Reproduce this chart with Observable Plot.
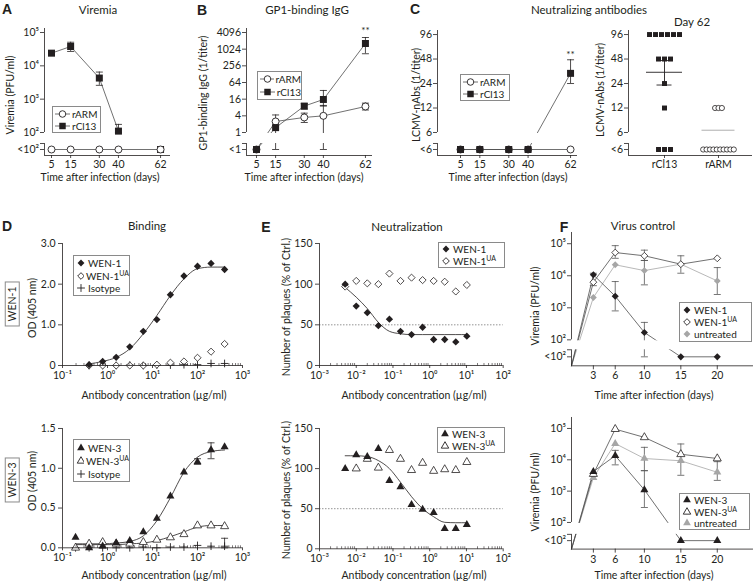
<!DOCTYPE html>
<html><head><meta charset="utf-8">
<script src="https://cdn.jsdelivr.net/npm/d3@7"></script>
<script src="https://cdn.jsdelivr.net/npm/@observablehq/plot@0.6"></script>
<style>
html,body{margin:0;padding:0;background:#fff;}
#fig{position:relative;width:754px;height:581px;overflow:hidden;background:#fff;font-family:Lato,"Open Sans",sans-serif;color:#231f20;}
.t{position:absolute;white-space:nowrap;transform:translate(-50%,-50%);line-height:1;}
.r{transform:translate(-50%,-50%) rotate(-90deg);}
.L{font-family:"Liberation Sans",Arial,sans-serif;font-weight:bold;font-size:14px;}
.ti{font-size:11.5px;}
.ax{font-size:10.5px;}
.boxlab{border:1px solid #8a8a8a;padding:1px 4px;font-size:10.5px;}
.box{position:absolute;box-sizing:border-box;border:1px solid #8a8a8a;background:#fff;font-size:10px;display:flex;flex-direction:column;justify-content:space-evenly;padding-left:2px;}
.row{display:flex;align-items:center;height:11px;white-space:nowrap;}
.row svg{margin-right:2px;}
sup{font-size:7px;line-height:0;vertical-align:4px;}
</style></head><body><div id="fig"></div>
<script>
// ================= DATA =================
// A–C: days after infection
const daysABC = [5, 15, 30, 40, 62];
// A: viremia (PFU/ml); 0 = below detection (<10^2)
const viremiaRARM = [0, 0, 0, 0, 0];
const viremiaRCl13 = [24000, 38000, 4300, 110, 0];
const viremiaRCl13Lo = [null, 27000, 2600, 100, null];
const viremiaRCl13Hi = [null, 51000, 6500, 175, null];
// B: GP1-binding IgG (1/titer); 0 = <1
const igRARM = [0, 2.5, 3.5, 4, 8.7];
const igRARMLo = [null, 1.8, 2.3, 0, 6.5];
const igRARMHi = [null, 4.3, 5, 9.5, 11.5];
const igRCl13 = [0, 1.5, 9, 15.6, 1640];
const igRCl13Lo = [null, 0, 7, 9, 700];
const igRCl13Hi = [null, 2.3, 11, 33, 2700];
// C: LCMV-nAbs (1/titer); 0 = <6
const nabRARM = [0, 0, 0, 0, 0];
const nabRCl13 = [0, 0, 0, 0, 32];
const nabRCl13Lo = [null, null, null, null, 24];
const nabRCl13Hi = [null, null, null, null, 47];
// C, day 62 individual mice
const day62Groups = ["rCl13", "rARM"];
const day62RCl13 = [96, 96, 96, 96, 96, 96, 48, 48, 48, 24, 12, 0, 0, 0];
const day62RARM = [12, 12, 12, 0, 0, 0, 0, 0, 0, 0, 0, 0, 0];
const day62Mean = [33, 6.4];
const day62SemLo = [23, 0];
const day62SemHi = [46, null];
// D: binding ELISA
const concD1 = [0.39, 0.78, 1.56, 3.125, 6.25, 12.5, 25, 50, 100, 200, 400];
const odWEN1 = [0.02, 0.10, 0.20, 0.46, 0.84, 1.13, 1.74, 2.20, 2.44, 2.51, 2.36];
const odWEN1UA = [0, 0, 0, 0, 0, 0.02, 0.07, 0.10, 0.19, 0.34, 0.53];
const odIso1 = [0, 0, 0, 0.01, 0, 0.01, 0.01, 0.02, 0.02, 0.05, 0.05];
const fitWEN1 = [0.04, 0.10, 0.20, 0.41, 0.78, 1.23, 1.72, 2.13, 2.38, 2.42, 2.42];
const concD3 = [0.195, 0.39, 0.78, 1.56, 3.125, 6.25, 12.5, 25, 50, 100, 200, 400];
const odWEN3 = [0.13, 0.0, 0.02, 0.06, 0.09, 0.20, 0.37, 0.65, 0.95, 1.08, 1.23, 1.27];
const odWEN3Lo = [null, null, null, null, null, null, null, null, null, 1.05, 1.12, null];
const odWEN3Hi = [null, null, null, null, null, null, null, null, null, 1.12, 1.32, null];
const odWEN3UA = [0.0, 0.05, 0.07, 0.05, 0.05, 0.07, 0.10, 0.13, 0.17, 0.28, 0.28, 0.27];
const odIso3 = [0, 0, 0, 0, 0, 0.01, 0, 0.01, 0.01, 0.03, 0.02, 0.02];
const odIso3Lo = [null, null, null, null, null, null, null, null, null, null, null, 0.0];
const odIso3Hi = [null, null, null, null, null, null, null, null, null, null, null, 0.12];
const fitWEN3 = [0.05, 0.05, 0.05, 0.06, 0.08, 0.15, 0.34, 0.63, 0.95, 1.14, 1.21, 1.23];
const fitWEN3UA = [0.04, 0.04, 0.04, 0.04, 0.05, 0.06, 0.09, 0.14, 0.20, 0.26, 0.28, 0.28];
// E: neutralization (% plaques of control)
const concE = [0.005, 0.01, 0.02, 0.04, 0.08, 0.16, 0.32, 0.64, 1.28, 2.56, 5.12, 10.24];
const plqWEN1 = [100, 73, 65, 49, 57, 42, 38, 47, 32, 32, 29, 36];
const plqWEN1UA = [97, 104, 101, 100, 113, 104, 108, 105, 104, 103, 91, 99];
const fitPlqWEN1 = [96, 84, 70, 53, 42, 39, 38, 38, 38, 38, 38, 38];
const plqWEN3 = [100, 117, 115, 125, 85, 77, 55, 49, 45, 25, 25, 30];
const plqWEN3UA = [null, 100, 112, 101, 123, 112, 98, 107, 97, 99, 98, 108];
const fitPlqWEN3 = [116, 116, 115, 110, 100, 83, 65, 50, 40, 33, 32.5, 32.5];
// F: virus control, viremia (PFU/ml); 0 = <10^2
const daysF = [3, 6, 10, 15, 20];
const vWEN1 = [10700, 2300, 170, 0, 0];
const vWEN1Lo = [null, 800, 0, null, null];
const vWEN1Hi = [null, 6600, 350, null, null];
const vWEN1UA = [6300, 53000, 42000, 23000, 35000];
const vWEN1UALo = [4900, 35000, 30000, null, null];
const vWEN1UAHi = [12000, 87000, 63000, null, null];
const vUntr1 = [2100, 22000, 14500, 23000, 6900];
const vUntr1Lo = [null, null, 5200, 12000, 2600];
const vUntr1Hi = [null, null, 30000, 42000, 18000];
const vWEN3 = [4200, 13500, 1100, 0, 0];
const vWEN3Lo = [null, 6900, 300, null, null];
const vWEN3Hi = [null, 20000, 4500, null, null];
const vWEN3UA = [3500, 95000, 52000, 15000, 11000];
const vUntr3 = [2700, 33000, 11000, 9300, 4000];
const vUntr3Lo = [null, null, 4500, 3200, 2200];
const vUntr3Hi = [null, null, 25000, 32000, 8700];

// ================= HELPERS =================
const fig = document.getElementById("fig");
const INK = "#231f20", GREY = "#a6a6a6", LINE = "#4d4d4d";
const FONT = "Lato, 'Open Sans', sans-serif";
const sup = n => String(n).replace(/[-0-9]/g, c => "⁻⁰¹²³⁴⁵⁶⁷⁸⁹"["-0123456789".indexOf(c)]);
const cap = {draw(ctx) { ctx.moveTo(-3.5, 0); ctx.lineTo(3.5, 0); }};
const vtick = {draw(ctx) { ctx.moveTo(0, 0); ctx.lineTo(0, -2.5); }};

function panel(g, marks) {
  const ML = 46, MR = 14, MT = 14, MB = 32;
  const svg = Plot.plot({
    width: ML + (g.x1 - g.x0) + MR,
    height: MT + (g.yb - g.yt) + MB,
    marginLeft: ML, marginRight: MR, marginTop: MT, marginBottom: MB,
    x: {type: g.xtype || "linear", domain: g.xd},
    y: {type: "linear", domain: g.yd},
    style: {background: "none", overflow: "visible", fontFamily: FONT, fontSize: "10.5px", color: INK},
    marks
  });
  svg.style.position = "absolute";
  svg.style.left = (g.x0 - ML) + "px";
  svg.style.top = (g.yt - MT) + "px";
  fig.appendChild(svg);
}
function errRows(xs, lo, hi, pos) {
  return xs.map((x, i) => ({x, lo: lo[i] == null ? null : pos(lo[i]), hi: hi[i] == null ? null : pos(hi[i])}))
    .filter(d => d.lo != null && d.hi != null);
}
function errMarks(rows, color) {
  return [
    Plot.ruleX(rows, {x: "x", y1: "lo", y2: "hi", stroke: color, strokeWidth: 0.8}),
    Plot.dot(rows, {x: "x", y: "lo", symbol: cap, stroke: color, fill: "none", strokeWidth: 0.8}),
    Plot.dot(rows, {x: "x", y: "hi", symbol: cap, stroke: color, fill: "none", strokeWidth: 0.8})
  ];
}
function gapRect(g) {
  return Plot.rect([{a: g.xd[0], b: g.xd[1], c: g.gap[0], d: g.gap[1]}], {x1: "a", x2: "b", y1: "c", y2: "d", fill: "white"});
}
function brokenAxes(g, yTicks, yFmt, xTicks, xFmt, xTickSize = 3) {
  return [
    Plot.ruleX([{x: g.xd[0], a: g.axTop, b: g.yd[1]}, {x: g.xd[0], a: g.yd[0], b: g.gap[0]}], {x: "x", y1: "a", y2: "b", stroke: INK, strokeWidth: 0.8}),
    Plot.ruleY([{y: g.yd[0], a: g.xd[0], b: g.xd[1]}], {y: "y", x1: "a", x2: "b", stroke: INK, strokeWidth: 0.8}),
    Plot.axisY({ticks: [g.band, ...yTicks], tickFormat: yFmt, tickSize: 4, tickPadding: 1.5, label: null, strokeWidth: 0.8}),
    Plot.axisY({ticks: [g.gap[0]], tickFormat: () => "", tickSize: 4, label: null, strokeWidth: 0.8}),
    Plot.axisX({ticks: xTicks, tickFormat: xFmt, tickSize: xTickSize, tickPadding: 2, label: null, strokeWidth: 0.8})
  ];
}
function logAxes(g, yTicks, yFmt, xTicks, minors) {
  return [
    Plot.ruleX([{x: g.xd[0], a: g.yd[0], b: g.yd[1]}], {x: "x", y1: "a", y2: "b", stroke: INK, strokeWidth: 0.8}),
    Plot.ruleY([{y: g.yd[0], a: g.xd[0], b: g.xd[1]}], {y: "y", x1: "a", x2: "b", stroke: INK, strokeWidth: 0.8}),
    Plot.axisY({ticks: yTicks, tickFormat: yFmt, tickSize: 4, tickPadding: 3, label: null, strokeWidth: 0.8}),
    Plot.axisX({ticks: xTicks, tickFormat: d => "10" + sup(Math.round(Math.log10(d))), tickSize: 3, tickPadding: 3, label: null, strokeWidth: 0.8}),
    Plot.dot(minors, {x: d => d, y: () => g.yd[0], symbol: vtick, stroke: INK, fill: "none", strokeWidth: 0.6})
  ];
}
function rows(xs, ys, pos = v => v) {
  return xs.map((x, i) => ({x, y: ys[i] == null ? null : pos(ys[i]), v: ys[i]})).filter(d => d.y != null);
}
function txt(s, x, y, cls = "", rot = false) {
  const d = document.createElement("div");
  d.className = "t " + cls + (rot ? " r" : "");
  d.style.left = x + "px"; d.style.top = y + "px";
  d.innerHTML = s;
  fig.appendChild(d);
}
function legend(x, y, w, h, items, withLine) {
  const b = document.createElement("div");
  b.className = "box";
  Object.assign(b.style, {left: x + "px", top: y + "px", width: w + "px", height: h + "px"});
  for (const it of items) {
    const row = document.createElement("div"); row.className = "row";
    const sw = withLine ? 15 : 10;
    const s = d3.create("svg").attr("width", sw).attr("height", 10);
    if (withLine) s.append("line").attr("x1", 0).attr("x2", sw).attr("y1", 5).attr("y2", 5).attr("stroke", LINE).attr("stroke-width", 0.8);
    s.append("path").attr("transform", `translate(${sw / 2},5)`).attr("d", d3.symbol(it.sym, it.size)())
      .attr("fill", it.fill).attr("stroke", it.stroke || "none").attr("stroke-width", 0.9);
    row.append(s.node());
    const sp = document.createElement("span"); sp.innerHTML = it.label; row.append(sp);
    b.append(row);
  }
  fig.append(b);
}
const minorTicks = ks => ks.flatMap(k => [2, 3, 4, 5, 6, 7, 8, 9].map(m => m * 10 ** k));

// ================= PANEL A =================
const gA = {x0: 44, x1: 170, yt: 28, yb: 155, xd: [1.34, 67.2], yd: [1.31, 5.12], band: 1.49, gap: [1.67, 1.98], axTop: 2};
const pA = v => v > 0 ? Math.log10(v) : gA.band;
const aARM = rows(daysABC, viremiaRARM, pA), aCl = rows(daysABC, viremiaRCl13, pA);
panel(gA, [
  Plot.line(aARM, {x: "x", y: "y", stroke: LINE, strokeWidth: 0.8}),
  Plot.line(aCl.filter(d => d.v > 0), {x: "x", y: "y", stroke: LINE, strokeWidth: 0.8}),
  ...errMarks(errRows(daysABC, viremiaRCl13Lo, viremiaRCl13Hi, pA), INK),
  gapRect(gA),
  Plot.dot(aCl, {x: "x", y: "y", symbol: "square", r: 3.95, fill: INK}),
  Plot.dot(aARM, {x: "x", y: "y", symbol: "circle", r: 3.5, fill: "white", stroke: INK, strokeWidth: 0.9}),
  ...brokenAxes(gA, [2, 3, 4, 5], d => d === gA.band ? "<10²" : "10" + sup(d), daysABC, d => d)
]);

// ================= PANEL B =================
const gB = {x0: 246, x1: 372, yt: 28, yb: 155, xd: [-0.23, 65.7], yd: [-2.76, 12.48], band: -2.04, gap: [-1.32, -0.12], axTop: 0};
const pB = v => v > 0 ? Math.log2(v) : gB.band;
const bARM = rows(daysABC, igRARM, pB), bCl = rows(daysABC, igRCl13, pB);
panel(gB, [
  Plot.line(bARM, {x: "x", y: "y", stroke: LINE, strokeWidth: 0.8}),
  Plot.line(bCl, {x: "x", y: "y", stroke: LINE, strokeWidth: 0.8}),
  ...errMarks(errRows(daysABC, igRARMLo, igRARMHi, pB), INK),
  ...errMarks(errRows(daysABC, igRCl13Lo, igRCl13Hi, pB), INK),
  gapRect(gB),
  Plot.dot(bARM, {x: "x", y: "y", symbol: "circle", r: 3.5, fill: "white", stroke: INK, strokeWidth: 0.9}),
  Plot.dot(bCl, {x: "x", y: "y", symbol: "square", r: 3.95, fill: INK}),
  Plot.text([{x: 62, y: pB(igRCl13Hi[4])}], {x: "x", y: "y", text: () => "**", dy: -7, fontSize: 10}),
  ...brokenAxes(gB, [0, 2, 4, 6, 8, 10, 12], d => d === gB.band ? "<1" : String(2 ** d), daysABC, d => d)
]);

// ================= PANEL C =================
const gC = {x0: 437, x1: 577, yt: 30, yb: 155, xd: [-6.92, 65.6], yd: [1.646, 6.75], band: 1.891, gap: [2.136, 2.544], axTop: Math.log2(6)};
const pC = v => v > 0 ? Math.log2(v) : gC.band;
const titerTicks = [6, 12, 24, 48, 96];
const fmtC = d => Math.abs(d - gC.band) < 1e-6 ? "<6" : String(Math.round(2 ** d));
const cARM = rows(daysABC, nabRARM, pC), cCl = rows(daysABC, nabRCl13, pC);
panel(gC, [
  Plot.line(cARM, {x: "x", y: "y", stroke: LINE, strokeWidth: 0.8}),
  Plot.line(cCl, {x: "x", y: "y", stroke: LINE, strokeWidth: 0.8}),
  ...errMarks(errRows(daysABC, nabRCl13Lo, nabRCl13Hi, pC), INK),
  gapRect(gC),
  Plot.dot(cARM, {x: "x", y: "y", symbol: "circle", r: 3.5, fill: "white", stroke: INK, strokeWidth: 0.9}),
  Plot.dot(cCl, {x: "x", y: "y", symbol: "square", r: 3.95, fill: INK}),
  Plot.text([{x: 62, y: pC(nabRCl13Hi[4])}], {x: "x", y: "y", text: () => "**", dy: -5, fontSize: 10}),
  ...brokenAxes(gC, titerTicks.map(Math.log2), fmtC, daysABC, d => d)
]);

// ================= PANEL C (day 62) =================
const gC62 = {x0: 628, x1: 752, yt: 30, yb: 155, xd: [0.333, 2.63], yd: gC.yd, band: gC.band, gap: gC.gap, axTop: Math.log2(6)};
const pxPerUnit = 54;
function spread(values, center, spacingPx) {
  const counts = d3.rollup(values, v => v.length, d => d), seen = new Map();
  return values.map(v => {
    const n = counts.get(v), k = seen.get(v) || 0; seen.set(v, k + 1);
    return {x: center + (k - (n - 1) / 2) * spacingPx / pxPerUnit, y: pC(v)};
  });
}
const d62Cl = spread(day62RCl13, 1, 6), d62ARM = spread(day62RARM, 2, 3.4);
const meanRows = day62Groups.map((g, i) => ({x: i + 1, m: pC(day62Mean[i]), lo: day62SemLo[i] == null ? null : pC(day62SemLo[i]), hi: day62SemHi[i] == null ? null : pC(day62SemHi[i]), c: i === 0 ? INK : GREY, w: i === 0 ? 18 : 16.5}));
panel(gC62, [
  Plot.ruleY(meanRows, {y: "m", x1: d => d.x - d.w / pxPerUnit, x2: d => d.x + d.w / pxPerUnit, stroke: "c", strokeWidth: 0.9}),
  Plot.ruleX(meanRows.filter(d => d.hi != null), {x: "x", y1: "lo", y2: "hi", stroke: "c", strokeWidth: 0.9}),
  Plot.ruleY(meanRows.filter(d => d.hi != null), {y: "hi", x1: d => d.x - 7.5 / pxPerUnit, x2: d => d.x + 7.5 / pxPerUnit, stroke: "c", strokeWidth: 0.9}),
  Plot.ruleY(meanRows, {y: "lo", x1: d => d.x - (d.hi == null ? d.w : 7.5) / pxPerUnit, x2: d => d.x + (d.hi == null ? d.w : 7.5) / pxPerUnit, stroke: "c", strokeWidth: 0.9}),
  gapRect(gC62),
  Plot.dot(d62Cl, {x: "x", y: "y", symbol: "square", r: 2.8, fill: INK}),
  Plot.dot(d62ARM, {x: "x", y: "y", symbol: "circle", r: 2.6, fill: "white", stroke: INK, strokeWidth: 0.8}),
  ...brokenAxes(gC62, titerTicks.map(Math.log2), fmtC, [1, 2], d => day62Groups[d - 1])
]);

// ================= PANEL D =================
const gD1 = {x0: 62, x1: 242, yt: 243, yb: 365, xd: [0.1, 1000], yd: [0, 3], xtype: "log"};
const gD3 = {x0: 62, x1: 242, yt: 427.7, yb: 547, xd: [0.1, 1000], yd: [0, 1.5], xtype: "log"};
const decD = [0.1, 1, 10, 100, 1000], minD = minorTicks([-1, 0, 1, 2]);
panel(gD1, [
  Plot.line(rows(concD1, fitWEN1), {x: "x", y: "y", curve: "monotone-x", stroke: INK, strokeWidth: 0.8}),
  Plot.dot(rows(concD1, odIso1), {x: "x", y: "y", symbol: "plus", r: 2.6, stroke: INK, fill: "none", strokeWidth: 0.9}),
  Plot.dot(rows(concD1, odWEN1UA), {x: "x", y: "y", symbol: "diamond2", r: 3.2, fill: "white", stroke: INK, strokeWidth: 0.8}),
  Plot.dot(rows(concD1, odWEN1), {x: "x", y: "y", symbol: "diamond2", r: 3.3, fill: INK}),
  ...logAxes(gD1, [0, 1, 2, 3], d => d === 0 ? "0" : d.toFixed(1), decD, minD)
]);
panel(gD3, [
  Plot.line(rows(concD3, fitWEN3), {x: "x", y: "y", curve: "monotone-x", stroke: INK, strokeWidth: 0.8}),
  Plot.line(rows(concD3, fitWEN3UA), {x: "x", y: "y", curve: "monotone-x", stroke: INK, strokeWidth: 0.8}),
  ...errMarks(errRows(concD3, odWEN3Lo, odWEN3Hi, v => v), INK),
  ...errMarks(errRows(concD3, odIso3Lo, odIso3Hi, v => v), INK),
  Plot.dot(rows(concD3, odIso3), {x: "x", y: "y", symbol: "plus", r: 2.6, stroke: INK, fill: "none", strokeWidth: 0.9}),
  Plot.dot(rows(concD3, odWEN3UA), {x: "x", y: "y", symbol: "triangle", r: 3, fill: "white", stroke: INK, strokeWidth: 0.8}),
  Plot.dot(rows(concD3, odWEN3), {x: "x", y: "y", symbol: "triangle", r: 3, fill: INK}),
  ...logAxes(gD3, [0, 0.5, 1, 1.5], d => d.toFixed(1), decD, minD)
]);

// ================= PANEL E =================
const gE1 = {x0: 319, x1: 502.7, yt: 243, yb: 365, xd: [0.001, 100], yd: [0, 150], xtype: "log"};
const gE3 = {x0: 319, x1: 502.7, yt: 427.7, yb: 548, xd: [0.001, 100], yd: [0, 150], xtype: "log"};
const decE = [0.001, 0.01, 0.1, 1, 10, 100], minE = minorTicks([-3, -2, -1, 0, 1]);
panel(gE1, [
  Plot.ruleY([50], {stroke: "#777", strokeDasharray: "1.5,1.5", strokeWidth: 0.8}),
  Plot.line(rows(concE, fitPlqWEN1), {x: "x", y: "y", curve: "monotone-x", stroke: INK, strokeWidth: 0.8}),
  Plot.dot(rows(concE, plqWEN1UA), {x: "x", y: "y", symbol: "diamond2", r: 3.2, fill: "white", stroke: INK, strokeWidth: 0.8}),
  Plot.dot(rows(concE, plqWEN1), {x: "x", y: "y", symbol: "diamond2", r: 3.3, fill: INK}),
  ...logAxes(gE1, [0, 50, 100, 150], d => String(d), decE, minE)
]);
panel(gE3, [
  Plot.ruleY([50], {stroke: "#777", strokeDasharray: "1.5,1.5", strokeWidth: 0.8}),
  Plot.line(rows(concE, fitPlqWEN3), {x: "x", y: "y", curve: "monotone-x", stroke: INK, strokeWidth: 0.8}),
  Plot.dot(rows(concE, plqWEN3UA), {x: "x", y: "y", symbol: "triangle", r: 3, fill: "white", stroke: INK, strokeWidth: 0.8}),
  Plot.dot(rows(concE, plqWEN3), {x: "x", y: "y", symbol: "triangle", r: 3, fill: INK}),
  ...logAxes(gE3, [0, 50, 100, 150], d => String(d), decE, minE)
]);

// ================= PANEL F =================
function virusPanel(g, series) {
  const pos = v => v > 0 ? Math.log10(v) : g.band;
  const marks = [];
  for (const s of series) {
    marks.push(Plot.line([{x: 0, y: g.yd[0]}, ...rows(daysF, s.v, pos)], {x: "x", y: "y", stroke: s.line, strokeWidth: 0.8}));
  }
  for (const s of series) if (s.lo) marks.push(...errMarks(errRows(daysF, s.lo, s.hi, pos), s.err));
  marks.push(gapRect(g));
  for (const s of series) marks.push(Plot.dot(rows(daysF, s.v, pos), {x: "x", y: "y", symbol: s.sym, r: s.r, fill: s.fill, stroke: s.stroke || "none", strokeWidth: 0.8}));
  marks.push(...brokenAxes(g, [2, 3, 4, 5], d => Math.abs(d - g.band) < 1e-6 ? "<10²" : "10" + sup(d), daysF, d => d, 4));
  panel(g, marks);
}
const gF1 = {x0: 571, x1: 753, yt: 231.7, yb: 365, xd: [0, 24.97], yd: [1.19, 5.35], band: 1.47, gap: [1.69, 1.97], axTop: 2};
const gF3 = {x0: 571, x1: 753, yt: 416.7, yb: 548.3, xd: [0, 24.97], yd: [1.15, 5.35], band: 1.42, gap: [1.62, 1.97], axTop: 2};
virusPanel(gF1, [
  {v: vUntr1, lo: vUntr1Lo, hi: vUntr1Hi, line: GREY, err: "#555", sym: "diamond2", r: 3.1, fill: GREY},
  {v: vWEN1UA, lo: vWEN1UALo, hi: vWEN1UAHi, line: LINE, err: "#555", sym: "diamond2", r: 3.1, fill: "white", stroke: INK},
  {v: vWEN1, lo: vWEN1Lo, hi: vWEN1Hi, line: LINE, err: "#555", sym: "diamond2", r: 3.2, fill: INK}
]);
virusPanel(gF3, [
  {v: vUntr3, lo: vUntr3Lo, hi: vUntr3Hi, line: GREY, err: "#555", sym: "triangle", r: 3, fill: GREY},
  {v: vWEN3UA, line: LINE, sym: "triangle", r: 3, fill: "white", stroke: INK},
  {v: vWEN3, lo: vWEN3Lo, hi: vWEN3Hi, line: LINE, err: "#555", sym: "triangle", r: 3, fill: INK}
]);

// ================= TEXT =================
txt("A", 7, 9, "L"); txt("B", 202, 10, "L"); txt("C", 415, 9, "L");
txt("D", 7, 226, "L"); txt("E", 266, 227, "L"); txt("F", 564, 227, "L");
txt("Viremia", 98, 10, "ti"); txt("GP1-binding IgG", 307, 10, "ti");
txt("Neutralizing antibodies", 589, 10, "ti"); txt("Day 62", 692, 22, "ti");
txt("Binding", 147, 226, "ti"); txt("Neutralization", 407, 227, "ti"); txt("Virus control", 643, 226, "ti");
txt("Viremia (PFU/ml)", 10, 95, "ax", true);
txt("GP1-binding IgG (1/titer)", 203, 93, "ax", true);
txt("LCMV-nAbs (1/titer)", 416, 95, "ax", true);
txt("LCMV-nAbs (1/titer)", 600, 90, "ax", true);
txt("OD (405 nm)", 32, 308, "ax", true);
txt("OD (405 nm)", 32, 481, "ax", true);
txt("Number of plaques (% of Ctrl.)", 286, 307, "ax", true);
txt("Number of plaques (% of Ctrl.)", 286, 490, "ax", true);
txt("Viremia (PFU/ml)", 535, 306, "ax", true);
txt("Viremia (PFU/ml)", 535, 492, "ax", true);
txt("WEN-1", 11.5, 304, "boxlab", true);
txt("WEN-3", 11.5, 480, "boxlab", true);
for (const x of [100, 304, 508]) txt("Time after infection (days)", x, 177, "ax");
for (const y of [395, 575]) {
  txt("Antibody concentration (µg/ml)", 154, y, "ax");
  txt("Antibody concentration (µg/ml)", 414, y, "ax");
  txt("Time after infection (days)", 654, y, "ax");
}

// ================= LEGENDS =================
const sq = {sym: d3.symbolSquare, size: 42, fill: INK};
const ci = {sym: d3.symbolCircle, size: 34, fill: "#fff", stroke: INK};
legend(52, 106, 49, 27, [{...ci, label: "rARM"}, {...sq, label: "rCl13"}], true);
legend(257, 71, 45, 29, [{...ci, label: "rARM"}, {...sq, label: "rCl13"}], true);
legend(460, 74, 50, 27, [{...ci, label: "rARM"}, {...sq, label: "rCl13"}], true);
const dmF = {sym: d3.symbolDiamond2, size: 30, fill: INK};
const dmO = {sym: d3.symbolDiamond2, size: 28, fill: "#fff", stroke: INK};
const dmG = {sym: d3.symbolDiamond2, size: 30, fill: GREY};
const trF = {sym: d3.symbolTriangle, size: 26, fill: INK};
const trO = {sym: d3.symbolTriangle, size: 24, fill: "#fff", stroke: INK};
const trG = {sym: d3.symbolTriangle, size: 26, fill: GREY};
const pl = {sym: d3.symbolPlus, size: 22, fill: "none", stroke: INK};
legend(73, 255, 57, 41, [{...dmF, label: "WEN-1"}, {...dmO, label: "WEN-1<sup>UA</sup>"}, {...pl, label: "Isotype"}]);
legend(73, 439, 57, 43, [{...trF, label: "WEN-3"}, {...trO, label: "WEN-3<sup>UA</sup>"}, {...pl, label: "Isotype"}]);
legend(438, 242, 67, 26, [{...dmF, label: "WEN-1"}, {...dmO, label: "WEN-1<sup>UA</sup>"}]);
legend(437, 427, 68, 26, [{...trF, label: "WEN-3"}, {...trO, label: "WEN-3<sup>UA</sup>"}]);
legend(679, 302, 73, 40, [{...dmF, label: "WEN-1"}, {...dmO, label: "WEN-1<sup>UA</sup>"}, {...dmG, label: "untreated"}]);
legend(679, 493, 71, 37, [{...trF, label: "WEN-3"}, {...trO, label: "WEN-3<sup>UA</sup>"}, {...trG, label: "untreated"}]);
</script></body></html>
